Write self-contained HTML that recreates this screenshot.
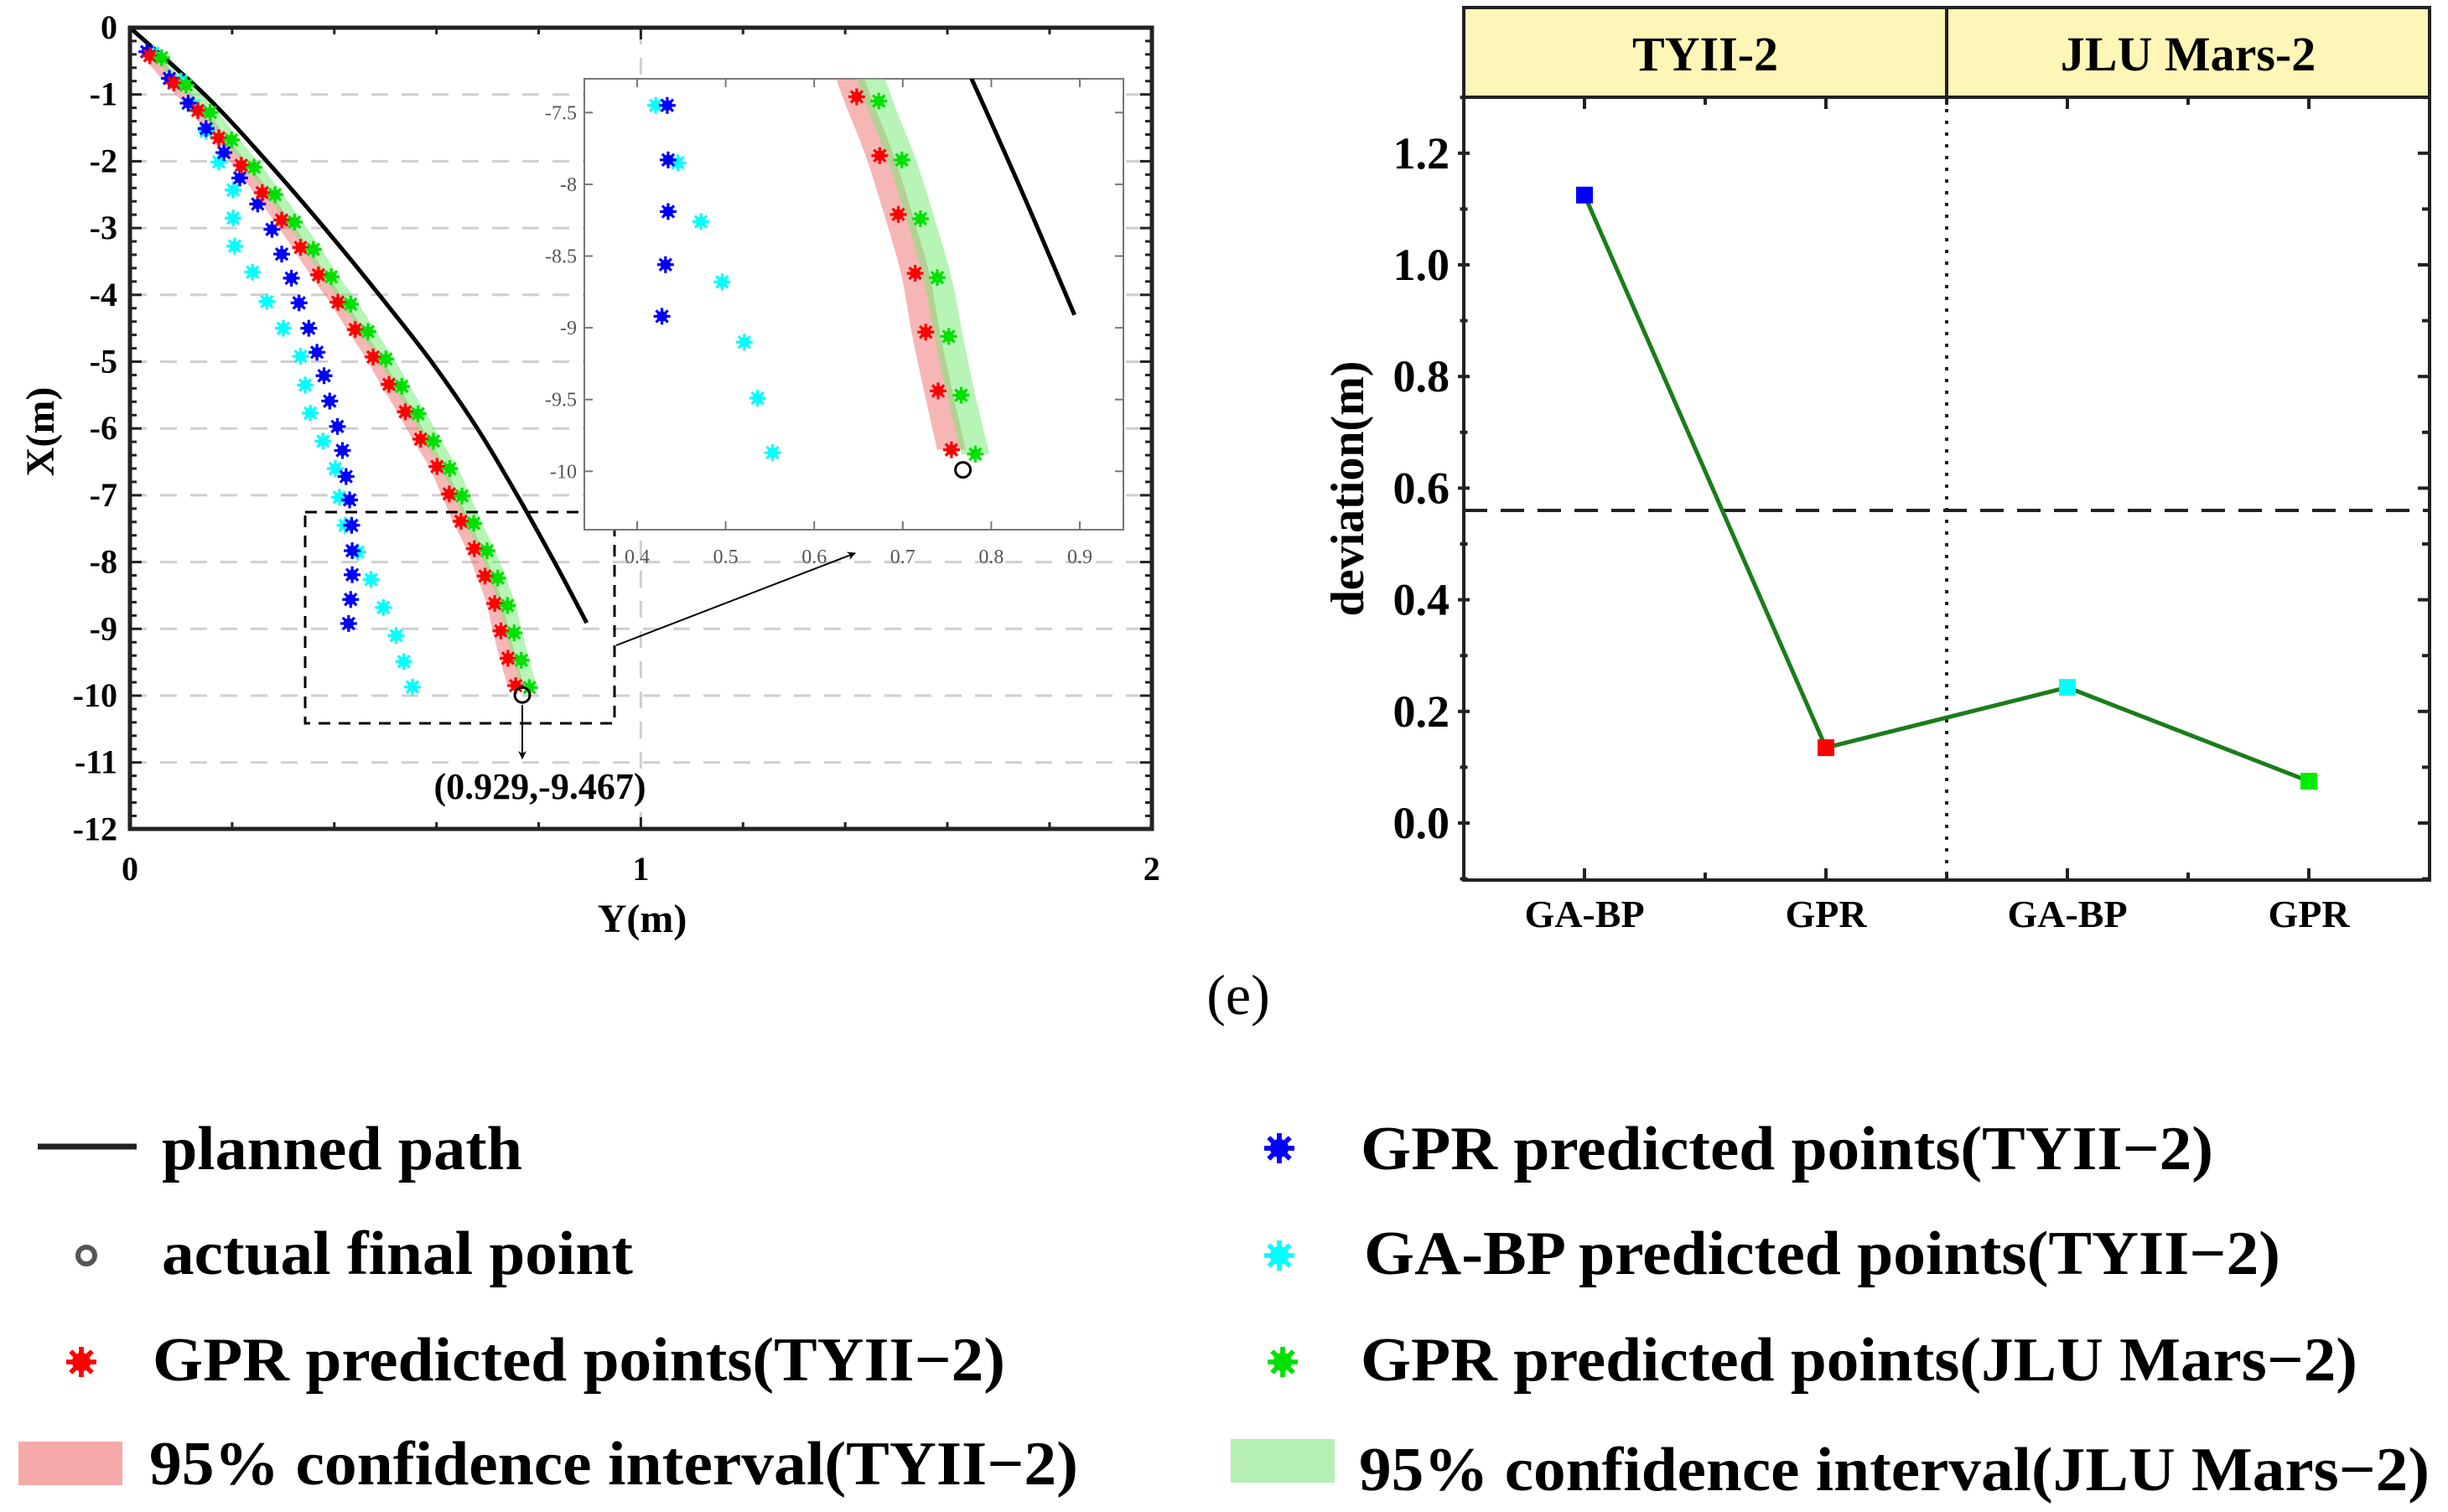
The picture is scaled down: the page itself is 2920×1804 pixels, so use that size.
<!DOCTYPE html>
<html><head><meta charset="utf-8"><style>
html,body{margin:0;padding:0;background:#fff;}
svg{display:block;}
text{font-family:"Liberation Serif","DejaVu Serif",serif;}
</style></head><body>
<svg id="fig" xmlns="http://www.w3.org/2000/svg" width="2920" height="1804" viewBox="0 0 2920 1804">
<defs>
<clipPath id="mainClip"><rect x="155" y="33" width="1219" height="956"/></clipPath>
<clipPath id="insetClip"><rect x="697" y="94" width="643" height="538"/></clipPath>
<marker id="arr" markerWidth="10" markerHeight="10" refX="9" refY="5" orient="auto" markerUnits="userSpaceOnUse" viewBox="0 0 10 10"><path d="M0,0 L10,5 L0,10 L3,5 z" fill="#000"/></marker>
</defs>
<g id="left"></g>
<g id="right"></g>
<text x="1477" y="1210" font-size="68" text-anchor="middle" font-family="Liberation Serif, serif">(e)</text>
<g id="legend"></g>
</svg>
<script>
// ---- trajectory data (Y = lateral m, X = forward m) ----
const plannedX = [0,-1,-2,-3,-4,-5,-6,-7,-8,-8.91];
const plannedY = [0,0.146,0.268,0.381,0.488,0.590,0.680,0.758,0.831,0.894];
const redX = [-0.42,-0.83,-1.24,-1.65,-2.06,-2.47,-2.88,-3.29,-3.70,-4.11,-4.52,-4.93,-5.34,-5.75,-6.16,-6.57,-6.98,-7.39,-7.80,-8.21,-8.62,-9.03,-9.44,-9.85];
const redY = [0.039,0.086,0.133,0.174,0.218,0.259,0.297,0.334,0.369,0.407,0.441,0.476,0.507,0.539,0.569,0.601,0.625,0.648,0.674,0.695,0.714,0.726,0.740,0.755];
const greenX = [-0.45,-0.86,-1.27,-1.68,-2.09,-2.50,-2.91,-3.32,-3.73,-4.14,-4.55,-4.96,-5.37,-5.78,-6.19,-6.60,-7.01,-7.42,-7.83,-8.24,-8.65,-9.06,-9.47,-9.88];
const greenY = [0.062,0.110,0.157,0.199,0.243,0.284,0.322,0.359,0.394,0.432,0.466,0.501,0.532,0.564,0.594,0.626,0.650,0.673,0.699,0.720,0.739,0.752,0.766,0.782];
const blueX = [-0.36,-0.76,-1.13,-1.51,-1.87,-2.25,-2.64,-3.02,-3.39,-3.75,-4.12,-4.50,-4.86,-5.21,-5.59,-5.97,-6.33,-6.72,-7.07,-7.45,-7.83,-8.19,-8.56,-8.92];
const blueY = [0.033,0.077,0.114,0.149,0.184,0.215,0.250,0.278,0.297,0.316,0.331,0.350,0.366,0.380,0.391,0.406,0.416,0.423,0.430,0.434,0.435,0.435,0.432,0.428];
const cyanX = [-0.38,-0.80,-1.17,-1.55,-2.01,-2.43,-2.85,-3.27,-3.66,-4.10,-4.50,-4.92,-5.35,-5.77,-6.19,-6.60,-7.03,-7.45,-7.85,-8.26,-8.68,-9.10,-9.49,-9.87];
const cyanY = [0.045,0.100,0.125,0.149,0.174,0.202,0.202,0.205,0.240,0.268,0.300,0.334,0.343,0.353,0.378,0.402,0.410,0.421,0.446,0.472,0.496,0.521,0.536,0.553];
const finalPoint = [0.768,-9.99];
const bandHalf = 0.016;
const mainYTicks = [0,-1,-2,-3,-4,-5,-6,-7,-8,-9,-10,-11,-12];
const mainXTicks = [0,1,2];
const insetXTicks = [0.4,0.5,0.6,0.7,0.8,0.9];
const insetYTicks = [-7.5,-8,-8.5,-9,-9.5,-10];
// ---- deviation data ----
const devCats = ["GA-BP","GPR","GA-BP","GPR"];
const devVals = [1.125,0.135,0.243,0.075];
const devColors = ["#0000ff","#ff0000","#00ffff","#00ee00"];
const devTicks = [0.0,0.2,0.4,0.6,0.8,1.0,1.2];
const devThreshold = 0.56;
const groups = ["TYII-2","JLU Mars-2"];

const NS="http://www.w3.org/2000/svg";
function mk(tag, attrs, parent){const e=document.createElementNS(NS,tag);for(const k in attrs)e.setAttribute(k,attrs[k]);parent.appendChild(e);return e;}

const sx = y => 155 + y*609.4;
const sy = x => 33 - x*79.7;
const ix = y => 760 + (y-0.4)*1056;
const iy = x => 562.3 + (-10 - x)*171.2;

function smoothPath(pts){
  let d='M'+pts[0][0]+','+pts[0][1];
  for(let i=0;i<pts.length-1;i++){
    const p0=pts[Math.max(0,i-1)],p1=pts[i],p2=pts[i+1],p3=pts[Math.min(pts.length-1,i+2)];
    const c1=[p1[0]+(p2[0]-p0[0])/6,p1[1]+(p2[1]-p0[1])/6];
    const c2=[p2[0]-(p3[0]-p1[0])/6,p2[1]-(p3[1]-p1[1])/6];
    d+=' C'+c1[0]+','+c1[1]+' '+c2[0]+','+c2[1]+' '+p2[0]+','+p2[1];
  }
  return d;
}

const L = document.getElementById('left');

for(let k=1;k<=11;k++){
  const g=mk('line',{x1:155,x2:1374,y1:sy(-k),y2:sy(-k),stroke:'#cfcfcf','stroke-width':3,'stroke-dasharray':'20 16'},L);
  
  
}
const vg=mk('line',{x1:sx(1),x2:sx(1),y1:33,y2:989,stroke:'#cfcfcf','stroke-width':3,'stroke-dasharray':'20 16'},L);



function star(parent,cx,cy,color,r){
  const g=mk('g',{},parent);
  mk('circle',{cx:cx,cy:cy,r:r*0.62,fill:color},g);
  for(let a=0;a<4;a++){const t=a*Math.PI/4;mk('line',{x1:cx-r*Math.cos(t),y1:cy-r*Math.sin(t),x2:cx+r*Math.cos(t),y2:cy+r*Math.sin(t),stroke:color,'stroke-width':r*0.32},g);}
  return g;
}
function band(parent,X,Y,fx,fy,color,name){
  let up=[],lo=[];
  for(let i=0;i<X.length;i++){up.push([fx(Y[i]+bandHalf),fy(X[i])]);lo.push([fx(Y[i]-bandHalf),fy(X[i])]);}
  lo.reverse();
  const d=smoothPath(up)+' L'+lo[0][0]+','+lo[0][1]+smoothPath(lo).slice(smoothPath(lo).indexOf(' C'))+' Z';
  const p=mk('path',{d:d,fill:color},parent);
  
  
}
function drawSeries(parent,fx,fy,r){
  band(parent,redX,redY,fx,fy,'rgba(240,110,110,0.5)','confidence-band-tyii');
  band(parent,greenX,greenY,fx,fy,'rgba(110,235,110,0.5)','confidence-band-jlu');
  const pl=mk('path',{d:smoothPath(plannedX.map((x,i)=>[fx(plannedY[i]),fy(x)])),fill:'none',stroke:'#000','stroke-width':5},parent);
  
  
  const sets=[[cyanX,cyanY,'#00ffff','ga-bp-point-tyii'],[blueX,blueY,'#0000ff','gpr-point-tyii-blue'],[redX,redY,'#ff0000','gpr-point-tyii'],[greenX,greenY,'#00e000','gpr-point-jlu']];
  for(const s of sets){for(let i=0;i<s[0].length;i++){
    const m=star(parent,fx(s[1][i]),fy(s[0][i]),s[2],r);
    
    
  }}
  const c=mk('circle',{cx:fx(finalPoint[0]),cy:fy(finalPoint[1]),r:r*0.9,fill:'none',stroke:'#000','stroke-width':3},parent);
  
  
}
const mainG=mk('g',{'clip-path':'url(#mainClip)'},L);
drawSeries(mainG,sx,sy,10);

const fr=mk('rect',{x:155,y:33,width:1219,height:956,fill:'none',stroke:'#222','stroke-width':5},L);


for(let v=0;v>=-12;v-=0.2){const y=sy(v);const len=Math.abs(v-Math.round(v))<0.01?14:8;
  mk('line',{x1:155,x2:155+len,y1:y,y2:y,stroke:'#222','stroke-width':3},L);
  mk('line',{x1:1374,x2:1374-len,y1:y,y2:y,stroke:'#222','stroke-width':3},L);}
for(let v=0;v<=2.001;v+=0.2){const x=sx(v);const len=Math.abs(v-Math.round(v))<0.01?14:8;
  mk('line',{x1:x,x2:x,y1:33,y2:33+len,stroke:'#222','stroke-width':3},L);
  mk('line',{x1:x,x2:x,y1:989,y2:989-len,stroke:'#222','stroke-width':3},L);}
mainYTicks.forEach(v=>{const t=mk('text',{x:140,y:sy(v)+13,'font-size':40,'font-weight':'bold','text-anchor':'end'},L);t.textContent=String(v);
  
  });
mainXTicks.forEach(v=>{const t=mk('text',{x:sx(v),y:1050,'font-size':40,'font-weight':'bold','text-anchor':'middle'},L);t.textContent=String(v);
  
  });
const xt=mk('text',{x:766,y:1112,'font-size':48,'font-weight':'bold','text-anchor':'middle'},L);xt.textContent='Y(m)';


const yt=mk('text',{x:0,y:0,'font-size':48,'font-weight':'bold','text-anchor':'middle',transform:'translate(64,515) rotate(-90)'},L);yt.textContent='X(m)';



const zr=mk('rect',{x:364,y:611,width:369,height:252,fill:'none',stroke:'#000','stroke-width':3,'stroke-dasharray':'14 10'},L);


const za=mk('line',{x1:735,y1:770,x2:1020,y2:660,stroke:'#000','stroke-width':2,'marker-end':'url(#arr)'},L);


const fa=mk('line',{x1:sx(finalPoint[0]),y1:sy(finalPoint[1])+12,x2:sx(finalPoint[0]),y2:905,stroke:'#000','stroke-width':2,'marker-end':'url(#arr)'},L);


const an=mk('text',{x:644,y:953,'font-size':44,'font-weight':'bold','text-anchor':'middle'},L);an.textContent='(0.929,-9.467)';



const ib=mk('rect',{x:697,y:94,width:643,height:538,fill:'#fff',stroke:'#777','stroke-width':2},L);


const insG=mk('g',{'clip-path':'url(#insetClip)'},L);
drawSeries(insG,ix,iy,10);
insetXTicks.forEach(v=>{const x=ix(v);mk('line',{x1:x,x2:x,y1:632,y2:622,stroke:'#777','stroke-width':2},L);mk('line',{x1:x,x2:x,y1:94,y2:104,stroke:'#777','stroke-width':2},L);
  const t=mk('text',{x:x,y:672,'font-size':24,fill:'#555','text-anchor':'middle'},L);t.textContent=String(v);
  
  });
insetYTicks.forEach(v=>{const y=iy(v);mk('line',{x1:697,x2:707,y1:y,y2:y,stroke:'#777','stroke-width':2},L);mk('line',{x1:1340,x2:1330,y1:y,y2:y,stroke:'#777','stroke-width':2},L);
  const t=mk('text',{x:688,y:y+8,'font-size':24,fill:'#555','text-anchor':'end'},L);t.textContent=String(v);
  
  });

// ---- right chart ----
const R=document.getElementById('right');
const rl=1746, rr=2898, rt=116, rb=1050;
const cx = i => 1890 + i*288;
const cy = v => 982 - v*666;
const hd=mk('rect',{x:rl,y:9,width:rr-rl,height:rt-9,fill:'#fdf6b6',stroke:'#222','stroke-width':4},R);


mk('line',{x1:(cx(1)+cx(2))/2,x2:(cx(1)+cx(2))/2,y1:9,y2:rt,stroke:'#222','stroke-width':4},R);
groups.forEach((g,i)=>{const t=mk('text',{x:(cx(2*i)+cx(2*i+1))/2,y:84,'font-size':58,'font-weight':'bold','text-anchor':'middle'},R);t.textContent=g;
  
  });
const rf=mk('rect',{x:rl,y:rt,width:rr-rl,height:rb-rt,fill:'none',stroke:'#222','stroke-width':4},R);


for(let v=-0.2;v<=1.35;v+=0.1){const y=cy(v);if(y<rt||y>rb)continue;const maj=Math.round(v*10)%2===0;const len=maj?14:9;
  mk('line',{x1:rl-len/2,x2:rl+len/2,y1:y,y2:y,stroke:'#222','stroke-width':4},R);
  mk('line',{x1:rr,x2:rr-len,y1:y,y2:y,stroke:'#222','stroke-width':4},R);}
for(let k=0;k<8;k++){const x=1890+k*144;if(x>rr)break;const len=k%2===0?14:9;
  mk('line',{x1:x,x2:x,y1:rt,y2:rt+len,stroke:'#222','stroke-width':4},R);
  mk('line',{x1:x,x2:x,y1:rb,y2:rb-len,stroke:'#222','stroke-width':4},R);}
devTicks.forEach(v=>{const t=mk('text',{x:1729,y:cy(v)+18,'font-size':54,'font-weight':'bold','text-anchor':'end'},R);t.textContent=v.toFixed(1);
  
  });
devCats.forEach((c,i)=>{const t=mk('text',{x:cx(i),y:1106,'font-size':46,'font-weight':'bold','text-anchor':'middle'},R);t.textContent=c;
  
  });
const dt=mk('text',{x:0,y:0,'font-size':56,'font-weight':'bold','text-anchor':'middle',transform:'translate(1626,583) rotate(-90)'},R);dt.textContent='deviation(m)';


const dv=mk('line',{x1:(cx(1)+cx(2))/2,x2:(cx(1)+cx(2))/2,y1:rt,y2:rb,stroke:'#222','stroke-width':4,'stroke-dasharray':'4 10'},R);


const th=mk('line',{x1:rl,x2:rr,y1:cy(devThreshold),y2:cy(devThreshold),stroke:'#222','stroke-width':4,'stroke-dasharray':'28 16'},R);


const dl=mk('polyline',{points:devVals.map((v,i)=>cx(i)+','+cy(v)).join(' '),fill:'none',stroke:'#1a7d1a','stroke-width':5},R);


devVals.forEach((v,i)=>{const m=mk('rect',{x:cx(i)-10,y:cy(v)-10,width:20,height:20,fill:devColors[i]},R);
  
  });

// ---- legend ----
const G=document.getElementById('legend');
const entries=[
 ['line',104,1368,193,1395,430,'planned path','legend-planned-path'],
 ['circle',103,1498,193,1520,562,'actual final point','legend-actual-final-point'],
 ['star#ff0000',97,1625,182,1647,1017,'GPR predicted points(TYII\u22122)','legend-gpr-tyii-red'],
 ['rect#f6a9a9',84,1746,178,1771,1108,'95% confidence interval(TYII\u22122)','legend-band-tyii'],
 ['star#0000ff',1526,1370,1623,1395,1017,'GPR predicted points(TYII\u22122)','legend-gpr-tyii-blue'],
 ['star#00ffff',1526,1498,1627,1520,1093,'GA-BP predicted points(TYII\u22122)','legend-ga-bp-tyii'],
 ['star#00e000',1530,1625,1623,1647,1189,'GPR predicted points(JLU Mars\u22122)','legend-gpr-jlu'],
 ['rect#b4f0b4',1530,1743,1621,1778,1277,'95% confidence interval(JLU Mars\u22122)','legend-band-jlu']];
entries.forEach(e=>{
  const g=mk('g',{},G);
  
  
  if(e[0]==='line')mk('line',{x1:45,x2:163,y1:e[2],y2:e[2],stroke:'#222','stroke-width':7},g);
  else if(e[0]==='circle')mk('circle',{cx:e[1],cy:e[2],r:10,fill:'none',stroke:'#555','stroke-width':6},g);
  else if(e[0].startsWith('star'))star(g,e[1],e[2],e[0].slice(4),18);
  else mk('rect',{x:e[1]-62,y:e[2]-26,width:124,height:52,fill:e[0].slice(4)},g);
  const t=mk('text',{x:e[3],y:e[4],'font-size':74,'font-weight':'bold',textLength:e[5],lengthAdjust:'spacingAndGlyphs'},g);
  t.textContent=e[6];
});
</script>
</body></html>
